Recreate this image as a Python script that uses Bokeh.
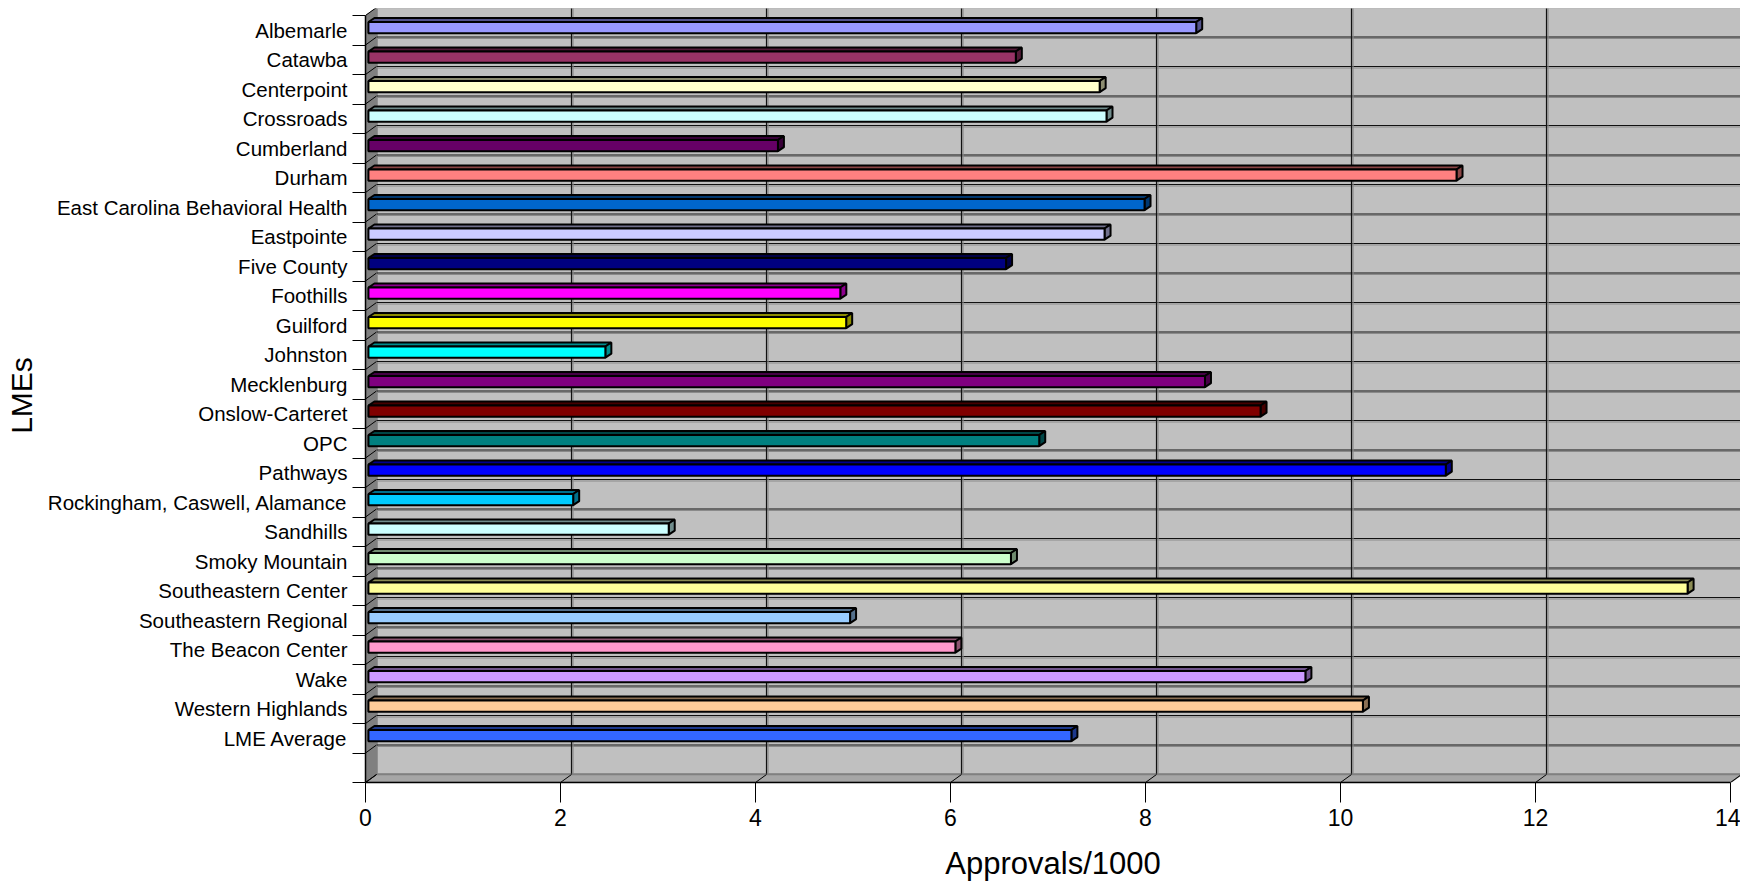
import math
from bokeh.plotting import figure
from bokeh.models import Range1d, FixedTicker
from bokeh.embed import file_html
from bokeh.resources import INLINE

categories = [
    "Albemarle", "Catawba", "Centerpoint", "Crossroads", "Cumberland", "Durham",
    "East Carolina Behavioral Health", "Eastpointe", "Five County", "Foothills",
    "Guilford", "Johnston", "Mecklenburg", "Onslow-Carteret", "OPC", "Pathways",
    "Rockingham, Caswell, Alamance", "Sandhills", "Smoky Mountain",
    "Southeastern Center", "Southeastern Regional", "The Beacon Center", "Wake",
    "Western Highlands", "LME Average",
]
values = [8.52, 6.67, 7.53, 7.60, 4.23, 11.19, 7.99, 7.58, 6.57, 4.87, 4.93, 2.46,
          8.61, 9.18, 6.91, 11.08, 2.13, 3.11, 6.62, 13.56, 4.97, 6.05, 9.64, 10.23, 7.24]
colors = ["#9999FF", "#993366", "#FFFFCC", "#CCFFFF", "#660066", "#FF8080",
          "#0066CC", "#CCCCFF", "#000080", "#FF00FF", "#FFFF00", "#00FFFF",
          "#800080", "#800000", "#008080", "#0000FF", "#00CCFF", "#CCFFFF",
          "#CCFFCC", "#FFFF99", "#99CCFF", "#FF99CC", "#CC99FF", "#FFCC99", "#3366FF"]
x_ticks = [0, 2, 4, 6, 8, 10, 12, 14]

FONT = "Liberation Sans"
PXX = 97.5
PXY = 29.5
DX = 11 / PXX
DY = 8 / PXY
Y0, Y1 = -0.5, 25.5
X1 = 14

p = figure(width=1740, height=888,
           x_range=Range1d(0, X1 + 10 / PXX), y_range=Range1d(Y0, Y1 + 7 / PXY),
           output_backend="svg", toolbar_location=None,
           min_border_left=365, min_border_right=0, min_border_top=8, min_border_bottom=106)
p.xgrid.visible = False
p.ygrid.visible = False
p.outline_line_color = None
p.background_fill_color = "white"
p.border_fill_color = "white"

# back wall
p.quad(left=DX, right=X1 + DX, bottom=Y0 + DY, top=Y1 + DY,
       fill_color="#C0C0C0", line_color="#808080", line_width=2.5)

boundaries = [Y0 + k for k in range(27)]
interior = boundaries[1:-1]
# horizontal gridlines (with light shadow)
p.segment(x0=[DX] * len(interior), x1=[X1 + DX] * len(interior),
          y0=[b + DY - 1.5 / PXY for b in interior], y1=[b + DY - 1.5 / PXY for b in interior],
          line_color="#8A8A8A", line_width=1.2)
p.segment(x0=[DX] * len(interior), x1=[X1 + DX] * len(interior),
          y0=[b + DY for b in interior], y1=[b + DY for b in interior],
          line_color="#111111", line_width=1.2)
# vertical gridlines
vx = [v + DX for v in x_ticks[1:-1]]
p.segment(x0=[v + 1.5 / PXX for v in vx], x1=[v + 1.5 / PXX for v in vx],
          y0=[Y0 + DY] * len(vx), y1=[Y1 + DY] * len(vx), line_color="#8A8A8A", line_width=1.2)
p.segment(x0=vx, x1=vx, y0=[Y0 + DY] * len(vx), y1=[Y1 + DY] * len(vx),
          line_color="#111111", line_width=1.2)

# floor
p.patch([0, X1, X1 + DX, DX], [Y0, Y0, Y0 + DY, Y0 + DY],
        fill_color="#A6A6A6", line_color="#808080", line_width=1.5)
# left side wall
p.patch([0, DX, DX, 0], [Y0, Y0 + DY, Y1 + DY, Y1],
        fill_color="#808080", line_color="#808080", line_width=1)
# slashes on side wall and floor
p.segment(x0=[0] * len(boundaries), x1=[DX] * len(boundaries),
          y0=boundaries, y1=[b + DY for b in boundaries], line_color="black", line_width=1)
p.segment(x0=x_ticks, x1=[v + DX for v in x_ticks], y0=[Y0] * len(x_ticks),
          y1=[Y0 + DY] * len(x_ticks), line_color="black", line_width=1)


def shade(hx, f=0.55):
    hx = hx.lstrip("#")
    r, g, b = (int(hx[i:i + 2], 16) for i in (0, 2, 4))
    return "#%02x%02x%02x" % (int(r * f), int(g * f), int(b * f))


# bars
n = len(categories)
centers = [n - i for i in range(n)]
BX0 = 0.03
H = 0.19
OFF = 0.09
BDX = 6 / PXX
BDY = 4 / PXY
top_xs, top_ys, side_xs, side_ys, dark = [], [], [], [], []
lefts, rights, bottoms, tops = [], [], [], []
for yc, v, col in zip(centers, values, colors):
    c = yc + OFF
    top_xs.append([BX0, v, v + BDX, BX0 + BDX])
    top_ys.append([c + H, c + H, c + H + BDY, c + H + BDY])
    side_xs.append([v, v + BDX, v + BDX, v])
    side_ys.append([c - H, c - H + BDY, c + H + BDY, c + H])
    dark.append(shade(col))
    lefts.append(BX0)
    rights.append(v)
    bottoms.append(c - H)
    tops.append(c + H)

p.patches(top_xs, top_ys, fill_color=dark, line_color="black", line_width=2)
p.patches(side_xs, side_ys, fill_color=dark, line_color="black", line_width=2)
p.quad(left=lefts, right=rights, bottom=bottoms, top=tops,
       fill_color=colors, line_color="black", line_width=2)

# x axis
xa = p.xaxis[0]
xa.ticker = FixedTicker(ticks=x_ticks)
xa.bounds = (0, X1)
xa.axis_line_color = "black"
xa.axis_line_width = 1.5
xa.major_tick_out = 20
xa.major_tick_in = 0
xa.major_tick_line_color = "black"
xa.minor_tick_line_color = None
xa.major_label_text_font = FONT
xa.major_label_text_font_size = "23px"
xa.major_label_text_color = "black"
xa.major_label_standoff = 6
xa.axis_label = "Approvals/1000"
xa.axis_label_text_font = FONT
xa.axis_label_text_font_size = "31px"
xa.axis_label_text_font_style = "normal"
xa.axis_label_text_color = "black"
xa.axis_label_standoff = 17

# y axis
ya = p.yaxis[0]
ya.ticker = FixedTicker(ticks=centers, minor_ticks=boundaries)
ya.bounds = (Y0, Y1)
ya.axis_line_color = "black"
ya.axis_line_width = 1.5
ya.major_tick_out = 0
ya.major_tick_in = 0
ya.major_tick_line_color = None
ya.minor_tick_out = 13
ya.minor_tick_in = 0
ya.minor_tick_line_color = "black"
ya.minor_tick_line_width = 1
ya.major_label_overrides = {c: name for c, name in zip(centers, categories)}
ya.major_label_text_font = FONT
ya.major_label_text_font_size = "20.5px"
ya.major_label_text_color = "black"
ya.major_label_standoff = 5
ya.axis_label = "LMEs"
ya.axis_label_text_font = FONT
ya.axis_label_text_font_size = "30px"
ya.axis_label_text_font_style = "normal"
ya.axis_label_text_color = "black"
ya.axis_label_standoff = 7

open("out.html", "w").write(file_html(p, INLINE))
